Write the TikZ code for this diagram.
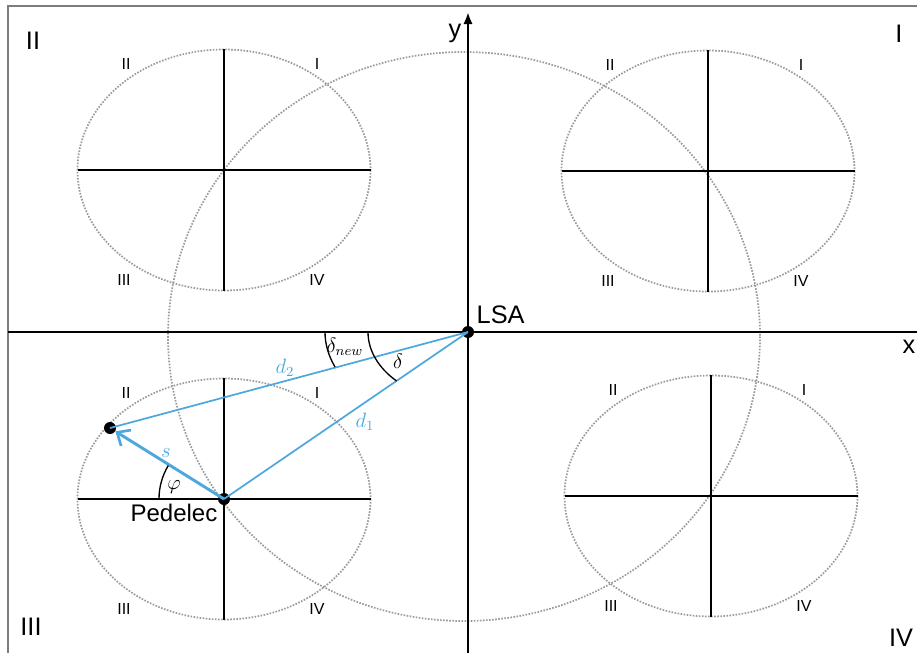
\documentclass[tikz,border=0pt]{standalone}
\usepackage{graphicx}
\usepackage{fontspec}
\setmainfont{Liberation Sans}
\usetikzlibrary{arrows.meta,calc}
\definecolor{bl}{RGB}{78,168,222}
\definecolor{ellc}{RGB}{155,155,155}
\definecolor{frm}{RGB}{125,125,125}
\newcommand{\mbig}[1]{\scalebox{1.3}{$#1$}}
\begin{document}
\begin{tikzpicture}[x=0.75pt,y=-0.75pt,
  axis/.style={line width=2pt,black},
  crossline/.style={line width=1.4pt,black},
  ellp/.style={draw=ellc,line width=1.3pt,dash pattern=on 1.2pt off 1.1pt},
  dot/.style={circle,fill=black,inner sep=0pt,minimum size=9pt},
  qsmall/.style={font=\fontsize{12}{14}\selectfont},
  qbig/.style={font=\fontsize{19}{22}\selectfont},
  mlab/.style={font=\fontsize{12}{14}\selectfont},
  blueline/.style={bl,line width=1.3pt},
  anglearc/.style={black,line width=1pt}]
\useasboundingbox (0,0) rectangle (917,653);
% frame
\draw[frm,line width=1.5pt] (8,653) -- (8,6) -- (917,6);
% big ellipse
\draw[ellp] (464,336.5) ellipse [x radius=296, y radius=284.5];
% small ellipses with crosses and labels
\foreach \cx/\cy/\nm in {224/170/tl, 708/171/tr, 224/499/bl, 711/496/br}{
  \coordinate (c\nm) at (\cx,\cy);
  \draw[ellp] (c\nm) ellipse [x radius=146.5, y radius=120.5];
  \draw[crossline] ($(c\nm)+(-146.5,0)$) -- ($(c\nm)+(146.5,0)$);
  \draw[crossline] ($(c\nm)+(0,-121)$) -- ($(c\nm)+(0,121)$);
  \node[qsmall] (q2\nm) at ($(c\nm)+(-98,-106)$) {II};
  \node[qsmall] (q1\nm) at ($(c\nm)+(93,-106)$) {I};
  \node[qsmall] (q3\nm) at ($(c\nm)+(-100,110)$) {III};
  \node[qsmall] (q4\nm) at ($(c\nm)+(93,110)$) {IV};
}
% axes
\coordinate (xl) at (8,332);
\coordinate (xr) at (917,332);
\coordinate (yb) at (468,653);
\coordinate (yt) at (468,12);
\draw[axis] (xl) -- (xr);
\draw[axis,-{Latex[length=9pt,width=7pt]}] (yb) -- (yt);
\node[qbig] (xlab) at (909,347) {x};
\node[qbig] (ylab) at (455,33) {y};
% quadrant labels
\node[qbig] (Q2) at (33,41) {II};
\node[qbig] (Q1) at (899,34) {I};
\node[qbig] (Q3) at (31,627) {III};
\node[qbig] (Q4) at (901,638) {IV};
% points
\node[dot] (lsa) at (468,332) {};
\node[dot] (ped) at (224,499) {};
\node[dot] (pt) at (110,428) {};
\node[qbig,anchor=west] (lsalab) at (472,315) {LSA};
\node[font=\fontsize{18}{21}\selectfont,anchor=east] (pedlab) at (222,513) {Pedelec};
% blue lines
\draw[blueline] (lsa.center) -- (ped.center);
\draw[blueline] (lsa.center) -- (pt.center);
\draw[bl,line width=2.2pt,-{Straight Barb[length=8pt,width=14pt,line width=2pt]}] (ped.center) -- (pt);
% angle arcs
\draw[anglearc] (lsa.center) ++(-100,0) arc[start angle=180,end angle=135.6,x radius=100,y radius=70];
\draw[anglearc] (lsa.center) ++(-143,0) arc[start angle=180,end angle=158.4,x radius=143,y radius=95];
\draw[anglearc] (ped.center) ++(-65,0) arc[start angle=180,end angle=211,radius=65];
% math labels
\node[mlab,bl] (d2) at (285,368) {\mbig{d_2}};
\node[mlab,bl] (d1) at (365,422) {\mbig{d_1}};
\node[mlab,bl] (s) at (166,453) {\mbig{s}};
\node[mlab] (phi) at (174,487) {\mbig{\varphi}};
\node[mlab] (dnew) at (345,347) {\mbig{\delta_{new}}};
\node[mlab] (del) at (398,361) {\mbig{\delta}};
\end{tikzpicture}
\end{document}
